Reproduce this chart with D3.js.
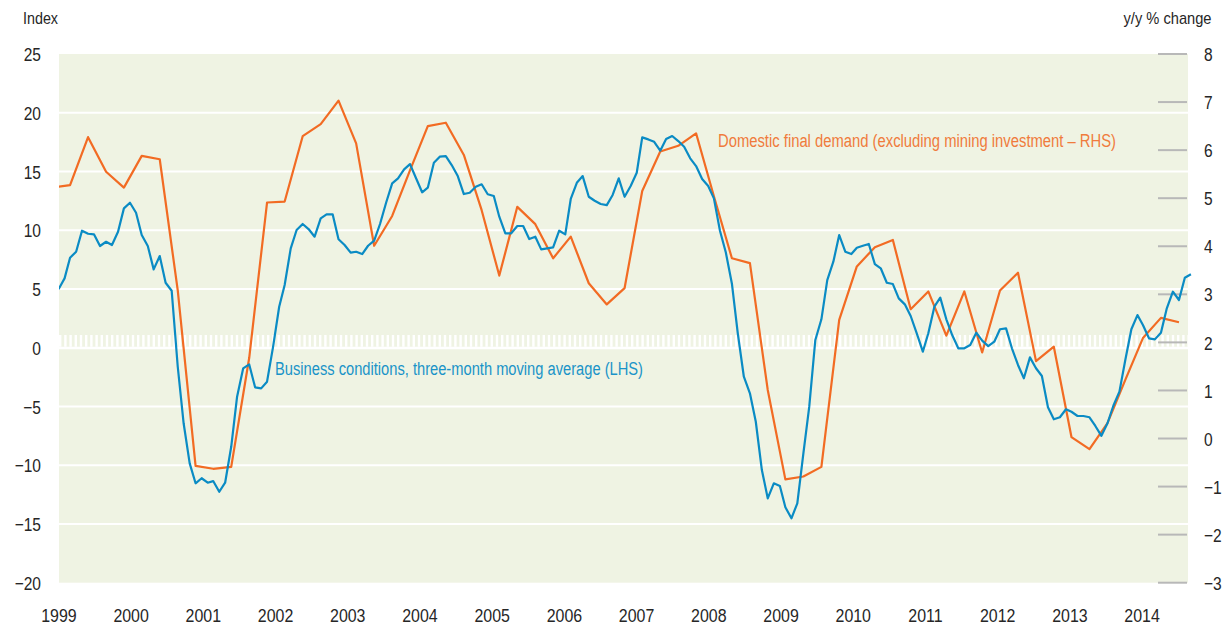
<!DOCTYPE html>
<html>
<head>
<meta charset="utf-8">
<script src="https://cdn.jsdelivr.net/npm/d3@7.9.0/dist/d3.min.js"></script>
<style>
  body { margin: 0; background: #fff; }
  svg text { font-family: "Liberation Sans", Arial, sans-serif; fill: #262626; }
</style>
</head>
<body>
<svg id="chart" width="1232" height="627"></svg>
<script>
// Business conditions, 3-month moving average (LHS, index) - monthly from Jan 1999
const blueStart = new Date(1999, 0, 1);
const blueValues = [
  4.97, 5.9, 7.66, 8.17, 9.96, 9.7, 9.65, 8.66, 9.02, 8.74, 9.87, 11.86,
  12.34, 11.49, 9.59, 8.66, 6.67, 7.8, 5.53, 4.85, -1.62, -6.43, -9.84, -11.54,
  -11.11, -11.49, -11.35, -12.26, -11.49, -8.43, -4.17, -1.76, -1.42, -3.37, -3.46, -2.89,
  0.09, 3.49, 5.34, 8.46, 10.02, 10.53, 10.1, 9.45, 11.01, 11.35, 11.35, 9.23,
  8.74, 8.09, 8.17, 7.97, 8.68, 9.11, 10.53, 12.34, 13.99, 14.42, 15.18, 15.63,
  14.42, 13.23, 13.62, 15.74, 16.26, 16.31, 15.55, 14.61, 13.08, 13.19, 13.7, 13.91,
  13.06, 12.91, 11.15, 9.74, 9.74, 10.36, 10.36, 9.25, 9.45, 8.37, 8.46, 8.54,
  9.96, 9.65, 12.66, 14.04, 14.61, 12.85, 12.51, 12.23, 12.14, 13.0, 14.42, 12.85,
  13.76, 14.89, 17.9, 17.73, 17.53, 16.77, 17.76, 18.02, 17.59, 17.1, 16.12, 15.46,
  14.36, 13.76, 12.71, 9.95, 8.1, 5.45, 1.23, -2.47, -3.88, -6.3, -10.41, -12.82,
  -11.54, -11.77, -13.58, -14.52, -13.24, -8.99, -5.02, 0.66, 2.42, 5.76, 7.32, 9.59,
  8.17, 7.97, 8.51, 8.68, 8.83, 7.12, 6.76, 5.53, 5.42, 4.2, 3.69, 2.7,
  1.23, -0.34, 1.23, 3.49, 4.26, 2.42, 1.08, -0.05, -0.05, 0.23, 1.28, 0.6,
  0.14, 0.51, 1.57, 1.65, -0.05, -1.47, -2.6, -0.82, -1.75, -2.41, -5.07, -6.09,
  -5.92, -5.24, -5.45, -5.81, -5.81, -5.92, -6.66, -7.5, -6.43, -4.94, -3.74, -1.05,
  1.57, 2.78, 1.93, 0.8, 0.71, 1.28, 3.35, 4.77, 4.06, 5.96, 6.25
];

// Domestic final demand excl. mining investment (RHS, y/y %) - quarterly from Dec 1998
const orangeStart = new Date(1998, 11, 1);
const orangeValues = [
  5.22, 5.27, 6.27, 5.55, 5.22, 5.88, 5.81, 3.08, -0.57, -0.63, -0.59, 1.68,
  4.91, 4.93, 6.29, 6.54, 7.03, 6.14, 4.01, 4.63, 5.58, 6.5, 6.57, 5.9,
  4.75, 3.39, 4.82, 4.46, 3.75, 4.2, 3.23, 2.79, 3.13, 5.15, 5.97, 6.09,
  6.35, 5.04, 3.75, 3.65, 1.01, -0.85, -0.79, -0.59, 2.47, 3.58, 3.98, 4.13,
  2.69, 3.06, 2.14, 3.06, 1.79, 3.08, 3.45, 1.61, 1.91, 0.03, -0.22, 0.32,
  1.22, 2.09, 2.51, 2.42
];

const years = d3.range(1999, 2015);
const leftTicks = [-20, -15, -10, -5, 0, 5, 10, 15, 20, 25];
const rightTicks = [-3, -2, -1, 0, 1, 2, 3, 4, 5, 6, 7, 8];

const blueData = blueValues.map((v, i) => ({ date: d3.timeMonth.offset(blueStart, i), value: v }));
const orangeData = orangeValues.map((v, i) => ({ date: d3.timeMonth.offset(orangeStart, i * 3), value: v }));

const plot = { left: 59, right: 1188, top: 54, bottom: 582.7 };
const blueCol = "#0a8bc4";
const orangeCol = "#f26b23";
const narrow = "scale(0.84,1)"; // no condensed font installed, squeeze Liberation Sans

const svg = d3.select("#chart");

const x = d3.scaleTime()
  .domain([blueStart, d3.timeMonth.offset(blueStart, 190)])
  .range([58.5, 58.5 + 190 * 5.96]);
// year labels are spaced on their own grid in the original
const xYear = d3.scaleLinear().domain([1999, 2014]).range([58.4, 1141.6]);
const yL = d3.scaleLinear().domain([-20, 25]).range([plot.bottom, plot.top]);
const yR = d3.scaleLinear().domain([-3, 8]).range([plot.bottom, plot.top]);

// panel
svg.append("rect")
  .attr("x", plot.left).attr("y", plot.top)
  .attr("width", plot.right - plot.left).attr("height", plot.bottom - plot.top)
  .attr("fill", "#eff3e3");

// gridlines
svg.append("g").selectAll("line")
  .data(leftTicks.filter(d => d > -20 && d < 25 && d !== 0))
  .enter().append("line")
  .attr("x1", plot.left).attr("x2", plot.right)
  .attr("y1", d => yL(d)).attr("y2", d => yL(d))
  .attr("stroke", "#fff").attr("stroke-width", 2);

// zero line with hatch above
svg.append("line")
  .attr("x1", plot.left).attr("x2", plot.right)
  .attr("y1", yL(0) - 6.8).attr("y2", yL(0) - 6.8)
  .attr("stroke", "#fff").attr("stroke-width", 11.6)
  .attr("stroke-dasharray", "2.4,2.8");
svg.append("line")
  .attr("x1", plot.left).attr("x2", plot.right)
  .attr("y1", yL(0) + 0.3).attr("y2", yL(0) + 0.3)
  .attr("stroke", "#fff").attr("stroke-width", 2.6);

// right axis tick marks
svg.append("g").selectAll("line")
  .data(rightTicks)
  .enter().append("line")
  .attr("x1", 1158).attr("x2", 1187)
  .attr("y1", d => yR(d)).attr("y2", d => yR(d))
  .attr("stroke", "#b8b8b8").attr("stroke-width", 2);

const fmt = d => d < 0 ? "\u2212" + Math.abs(d) : String(d);

// left axis
const leftAxis = svg.append("g")
  .attr("transform", "translate(41,0)")
  .call(d3.axisLeft(yL).tickValues(leftTicks).tickSize(0).tickPadding(0).tickFormat(fmt));
leftAxis.select(".domain").remove();
leftAxis.selectAll("text").attr("font-size", 18.5).attr("dy", "0.36em").attr("transform", narrow);

// right axis
const rightAxis = svg.append("g")
  .attr("transform", "translate(1204,0)")
  .call(d3.axisRight(yR).tickValues(rightTicks).tickSize(0).tickPadding(0).tickFormat(fmt));
rightAxis.select(".domain").remove();
rightAxis.selectAll("text").attr("font-size", 18.5).attr("dy", "0.36em").attr("transform", narrow);

// bottom axis
const bottomAxis = svg.append("g")
  .attr("transform", "translate(0,608)")
  .call(d3.axisBottom(xYear).tickValues(years).tickSize(0).tickPadding(0).tickFormat(d3.format("d")));
bottomAxis.select(".domain").remove();
bottomAxis.selectAll("text").attr("font-size", 19).attr("dy", "0.72em").attr("transform", narrow);

svg.selectAll(".tick text").attr("fill", "#262626");
svg.selectAll("g").attr("font-family", null);

// axis titles
svg.append("text").attr("x", 23).attr("y", 24).attr("font-size", 17)
  .attr("textLength", 35).attr("lengthAdjust", "spacingAndGlyphs").text("Index");
svg.append("text").attr("x", 1123.5).attr("y", 24).attr("font-size", 17)
  .attr("textLength", 88).attr("lengthAdjust", "spacingAndGlyphs").text("y/y % change");

// lines
svg.append("clipPath").attr("id", "clip")
  .append("rect").attr("x", plot.left).attr("y", 0).attr("width", 1232 - plot.left).attr("height", 627);

const lines = svg.append("g").attr("clip-path", "url(#clip)");

lines.append("path")
  .datum(orangeData)
  .attr("fill", "none").attr("stroke", orangeCol).attr("stroke-width", 2.2)
  .attr("stroke-linejoin", "round")
  .attr("d", d3.line().x(d => x(d.date)).y(d => yR(d.value)));

lines.append("path")
  .datum(blueData)
  .attr("fill", "none").attr("stroke", blueCol).attr("stroke-width", 2.2)
  .attr("stroke-linejoin", "round")
  .attr("d", d3.line().x(d => x(d.date)).y(d => yL(d.value)));

// series labels
svg.append("text").attr("x", 718).attr("y", 147).attr("font-size", 18)
  .attr("textLength", 398).attr("lengthAdjust", "spacingAndGlyphs")
  .style("fill", "#f07b3c")
  .text("Domestic final demand (excluding mining investment \u2013 RHS)");
svg.append("text").attr("x", 275).attr("y", 375).attr("font-size", 18)
  .attr("textLength", 368).attr("lengthAdjust", "spacingAndGlyphs")
  .style("fill", "#1a93c8")
  .text("Business conditions, three-month moving average (LHS)");
</script>
</body>
</html>
